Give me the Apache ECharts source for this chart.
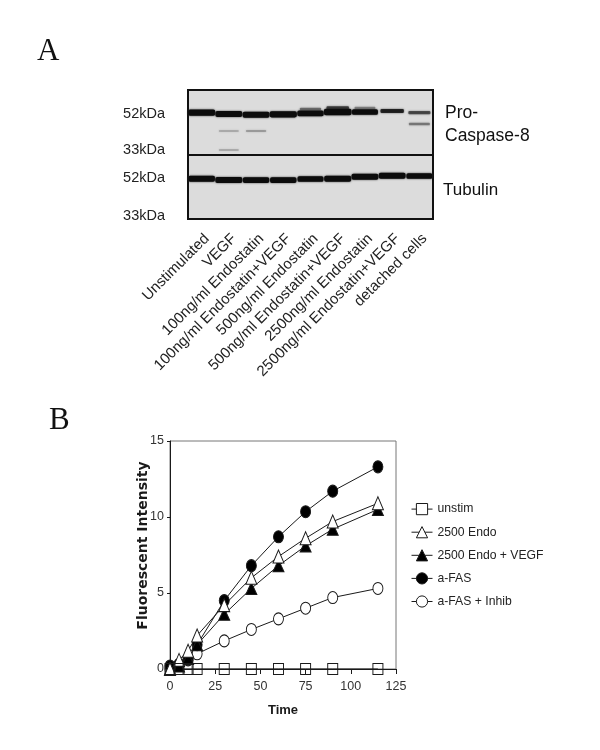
<!DOCTYPE html>
<html>
<head>
<meta charset="utf-8">
<style>
  html, body { margin: 0; padding: 0; background: #fff; }
  #main { width: 600px; height: 750px; }
</style>
<script src="https://cdn.jsdelivr.net/npm/echarts@6/dist/echarts.min.js"></script>
</head>
<body>
<div id="main"></div>
<script>
// panel A: lanes of the blot
var lanes = ['Unstimulated', 'VEGF', '100ng/ml Endostatin', '100ng/ml Endostatin+VEGF', '500ng/ml Endostatin',
  '500ng/ml Endostatin+VEGF', '2500ng/ml Endostatin', '2500ng/ml Endostatin+VEGF', 'detached cells']
var markerPositions = [24, 60, 88, 126]
var markerLabels = ['52kDa', '33kDa', '52kDa', '33kDa']
var panelDivider = [65]
// migration distance and signal (0-1) per lane
var caspaseY = [22.7, 24, 24.7, 24.3, 23.3, 22, 22, 21, 22.7]
var caspaseSignal = [0.95, 0.9, 0.9, 0.95, 0.85, 1, 0.8, 0.5, 0.35]
var tubulinY = [88.7, 90, 90, 90, 89, 88.7, 86.7, 85.7, 86]
var tubulinSignal = [0.9, 0.92, 0.85, 0.85, 0.8, 0.92, 0.9, 0.9, 0.8]
// faint extra bands
var faintLane = [1, 2, 1, 8, 4, 5, 6]
var faintY = [41, 41, 60, 34, 19, 18, 18]
var faintSignal = [0.1, 0.14, 0.1, 0.22, 0.25, 0.4, 0.2]

// panel B: time course
var time = [0, 5, 10, 15, 30, 45, 60, 75, 90, 115]
var unstim = [0, 0, 0, 0, 0, 0, 0, 0, 0, 0]
var endo = [0, 0.6, 1.2, 2.2, 4.2, 6.0, 7.4, 8.6, 9.7, 10.9]
var endoVegf = [0, 0.2, 0.7, 1.6, 3.6, 5.3, 6.8, 8.1, 9.2, 10.5]
var aFas = [0.2, 0.3, 0.65, 1.6, 4.5, 6.8, 8.7, 10.35, 11.7, 13.3]
var aFasInhib = [0, 0.3, 0.6, 1.0, 1.85, 2.6, 3.3, 4.0, 4.7, 5.3]

var LABEL_FONT = '"Liberation Sans", Arial, sans-serif'
var INK = '#1a1a1a'

function zip (xs, ys) {
  return xs.map(function (x, i) { return [x, ys[i]] })
}

function bandData (ys, signal) {
  return ys.map(function (y, i) { return [i, y, signal[i]] })
}

// a blot band, its size and darkness follow the signal
function renderBand (params, api) {
  var c = api.coord([api.value(0), api.value(1)])
  var s = api.value(2)
  var laneW = api.size([1, 0])[0]
  var w = laneW * (0.7 + 0.32 * s)
  var h = 1.5 + 5 * s
  return {
    type: 'rect',
    shape: { x: c[0] - w / 2, y: c[1] - h / 2, width: w, height: h, r: h / 3 },
    style: { fill: '#0c0c0c', opacity: Math.min(1, s * 1.6), shadowBlur: 2, shadowColor: '#333' }
  }
}

function renderDivider (params, api) {
  var y = api.coord([0, api.value(0)])[1]
  return {
    type: 'rect',
    shape: { x: params.coordSys.x, y: y - 1, width: params.coordSys.width, height: 2 },
    style: { fill: '#111' }
  }
}

function timeSeries (name, values, symbol, size, fill) {
  return {
    name: name,
    type: 'line',
    xAxisIndex: 1,
    yAxisIndex: 1,
    data: zip(time, values),
    symbol: symbol,
    symbolSize: size,
    showAllSymbols: true,
    showSymbol: true,
    clip: false,
    lineStyle: { color: INK, width: 1 },
    itemStyle: { color: fill, borderColor: INK, borderWidth: 1, opacity: 1 }
  }
}

var legendNames = ['unstim', '2500 Endo', '2500 Endo + VEGF', 'a-FAS', 'a-FAS + Inhib']

var chart = echarts.init(document.getElementById('main'), null, { renderer: 'canvas' })
chart.setOption({
  animation: false,
  backgroundColor: '#fff',
  textStyle: { fontFamily: LABEL_FONT },
  graphic: [
    { type: 'text', left: 37, top: 36, style: { text: 'A', font: '31px "Liberation Serif", serif', fill: '#111' } },
    { type: 'text', left: 49, top: 405, style: { text: 'B', font: '31px "Liberation Serif", serif', fill: '#111' } },
    { type: 'text', left: 445, top: 104, style: { text: 'Pro-', font: '17.5px ' + LABEL_FONT, fill: '#111' } },
    { type: 'text', left: 445, top: 127, style: { text: 'Caspase-8', font: '17.5px ' + LABEL_FONT, fill: '#111' } },
    { type: 'text', left: 443, top: 182, style: { text: 'Tubulin', font: '17px ' + LABEL_FONT, fill: '#111' } }
  ],
  grid: [
    { left: 188, top: 90, width: 245, height: 129, show: true, backgroundColor: '#dcdcdc', borderColor: '#111', borderWidth: 2 },
    { left: 170, top: 441, width: 226, height: 228, show: true, backgroundColor: 'transparent', borderColor: '#777', borderWidth: 1 }
  ],
  xAxis: [
    {
      gridIndex: 0,
      type: 'category',
      data: lanes,
      axisLine: { lineStyle: { color: '#111', width: 2 } },
      axisTick: { show: false },
      axisLabel: { interval: 0, rotate: 45, margin: 12, verticalAlign: 'top', fontSize: 15, color: '#222', fontFamily: LABEL_FONT }
    },
    {
      gridIndex: 1,
      type: 'value',
      min: 0,
      max: 125,
      interval: 25,
      name: 'Time',
      nameLocation: 'middle',
      nameGap: 35,
      nameTextStyle: { fontFamily: LABEL_FONT, fontWeight: 'bold', fontSize: 13, color: INK },
      splitLine: { show: false },
      axisLine: { onZero: false, lineStyle: { color: INK } },
      axisTick: { length: 5, lineStyle: { color: INK } },
      axisLabel: { margin: 11, fontSize: 12.5, fontFamily: LABEL_FONT, color: '#333' }
    }
  ],
  yAxis: [
    {
      gridIndex: 0,
      type: 'value',
      min: 0,
      max: 129,
      inverse: true,
      splitLine: { show: false },
      axisLine: { lineStyle: { color: '#111', width: 2 } },
      axisTick: { length: 14, customValues: markerPositions, lineStyle: { color: '#111', width: 2 } },
      axisLabel: {
        customValues: markerPositions,
        margin: 23,
        fontSize: 14.5,
        color: '#222',
        fontFamily: LABEL_FONT,
        formatter: function (v) { return markerLabels[markerPositions.indexOf(v)] }
      }
    },
    {
      gridIndex: 1,
      type: 'value',
      min: 0,
      max: 15,
      interval: 5,
      name: 'Fluorescent Intensity',
      nameLocation: 'middle',
      nameGap: 20,
      nameMoveOverlap: false,
      nameTextStyle: { fontFamily: '"DejaVu Sans", sans-serif', fontWeight: 'bold', fontSize: 14, color: INK, padding: [0, 0, 0, 19] },
      splitLine: { show: false },
      axisLine: { onZero: false, lineStyle: { color: INK } },
      axisTick: { length: 3, lineStyle: { color: INK } },
      axisLabel: { margin: 6, fontSize: 12.5, fontFamily: LABEL_FONT, color: '#333' }
    }
  ],
  legend: {
    left: 411,
    top: 503,
    padding: 0,
    orient: 'vertical',
    itemWidth: 21,
    itemHeight: 14,
    itemGap: 10.9,
    selectedMode: false,
    lineStyle: { width: 1 },
    itemStyle: { borderWidth: 1 },
    textStyle: { fontFamily: LABEL_FONT, fontSize: 12.2, color: '#222' },
    data: legendNames.map(function (n) {
      return n === 'unstim' ? { name: n, itemStyle: { color: '#fff' } } : { name: n }
    })
  },
  series: [
    {
      type: 'custom',
      name: 'faint',
      coordinateSystem: 'cartesian2d',
      xAxisIndex: 0,
      yAxisIndex: 0,
      renderItem: renderBand,
      data: faintLane.map(function (l, i) { return [l, faintY[i], faintSignal[i]] })
    },
    {
      type: 'custom',
      name: 'caspase',
      coordinateSystem: 'cartesian2d',
      xAxisIndex: 0,
      yAxisIndex: 0,
      renderItem: renderBand,
      data: bandData(caspaseY, caspaseSignal)
    },
    {
      type: 'custom',
      name: 'tubulin',
      coordinateSystem: 'cartesian2d',
      xAxisIndex: 0,
      yAxisIndex: 0,
      renderItem: renderBand,
      data: bandData(tubulinY, tubulinSignal)
    },
    {
      type: 'custom',
      name: 'divider',
      coordinateSystem: 'cartesian2d',
      xAxisIndex: 0,
      yAxisIndex: 0,
      renderItem: renderDivider,
      encode: { y: 0 },
      data: panelDivider.map(function (y) { return [y] })
    },
    timeSeries('a-FAS + Inhib', aFasInhib, 'circle', [10, 12], '#fff'),
    timeSeries('a-FAS', aFas, 'circle', [10, 12], '#000'),
    timeSeries('2500 Endo + VEGF', endoVegf, 'triangle', [11, 12], '#000'),
    timeSeries('2500 Endo', endo, 'triangle', [11, 13], '#fff'),
    timeSeries('unstim', unstim, 'rect', [10, 11], 'transparent')
  ]
})
</script>
</body>
</html>
